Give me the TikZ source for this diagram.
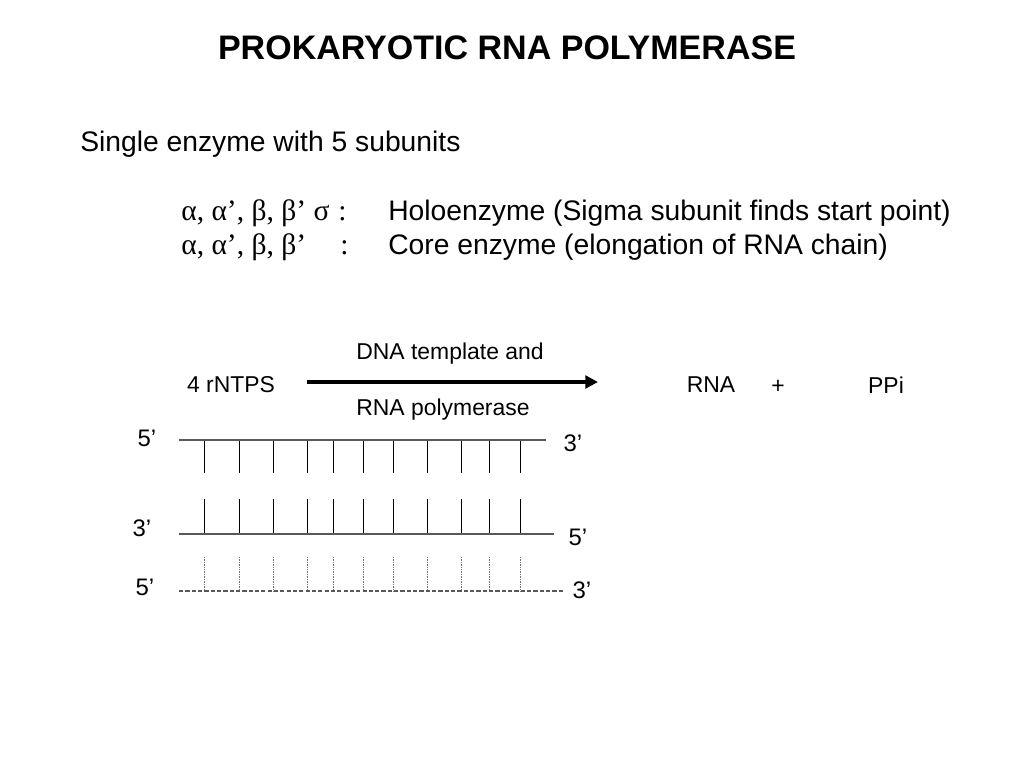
\documentclass[tikz,border=0pt]{standalone}
\usepackage{fontspec}
\setmainfont{Liberation Sans}
\newfontfamily\symfont{Liberation Serif}
\usetikzlibrary{arrows.meta}

\begin{document}
\begin{tikzpicture}[x=0.025cm,y=-0.025cm]
  \tikzstyle{lbl}=[inner sep=0pt,font=\fontsize{16.3}{19}\selectfont]
  \tikzstyle{txt}=[anchor=base west,inner sep=0pt,font=\fontsize{20.1}{24}\selectfont]
  \tikzstyle{greek}=[txt,font=\symfont\fontsize{21}{25}\selectfont]
  \tikzstyle{strand}=[draw=black!65,line width=0.8pt]
  \tikzstyle{base}=[black,line width=0.6pt]
  \useasboundingbox (0,0) rectangle (1024,768);

  \node[inner sep=0pt,font=\bfseries\fontsize{24.2}{29}\selectfont] (title) at (507,48) {PROKARYOTIC RNA POLYMERASE};
  \node[txt] (single) at (80,151) {Single enzyme with 5 subunits};

  \node[greek] (holo-sub) at (181,220) {α, α’, β, β’ σ};
  \node[greek] (holo-colon) at (338,220) {:};
  \node[txt] (holo) at (388,220) {Holoenzyme (Sigma subunit finds start point)};
  \node[greek] (core-sub) at (181,254) {α, α’, β, β’};
  \node[greek] (core-colon) at (340,254) {:};
  \node[txt] (core) at (388,254) {Core enzyme (elongation of RNA chain)};

  % reaction
  \foreach \name/\x/\y/\text in {ntp/231/385/4 rNTPS, dna/450/354/DNA template and,
                                 pol/443/410/RNA polymerase, rna/711/385/RNA,
                                 plus/778/387/+, ppi/886/385/PPi}
    \node[lbl] (R-\name) at (\x,\y) {\text};
  \coordinate (arr-a) at (307,382);
  \coordinate (arr-b) at (598,382);
  \draw[line width=2.8pt,-{Triangle[length=9pt,width=9pt]}] (arr-a) -- (arr-b);

  % strand end labels
  \foreach \name/\x/\y/\text in {1l/147/438/5’, 1r/573/443/3’, 2l/142/528/3’,
                                 2r/578/537/5’, 3l/145/587/5’, 3r/582/590/3’}
    \node[lbl,font=\fontsize{17}{19}\selectfont] (E-\name) at (\x,\y) {\text};

  \coordinate (S-1l) at (179,440); \coordinate (S-1r) at (546,440);
  \coordinate (S-2l) at (179,534); \coordinate (S-2r) at (554,534);
  \coordinate (S-3l) at (179,591); \coordinate (S-3r) at (563,591);

  \foreach \x in {204,239,273,307,333,363,393,427,461,489,520}
    { \draw[base] (\x,440) -- (\x,473);
      \draw[base] (\x,499) -- (\x,534);
      \draw[black!55,line width=0.7pt,dash pattern=on 0.6pt off 0.6pt] (\x,557) -- (\x,591); }

  \draw[strand] (S-1l) -- (S-1r);
  \draw[strand] (S-2l) -- (S-2r);
  \draw[strand,dash pattern=on 3pt off 1.5pt] (S-3l) -- (S-3r);
\end{tikzpicture}
\end{document}
